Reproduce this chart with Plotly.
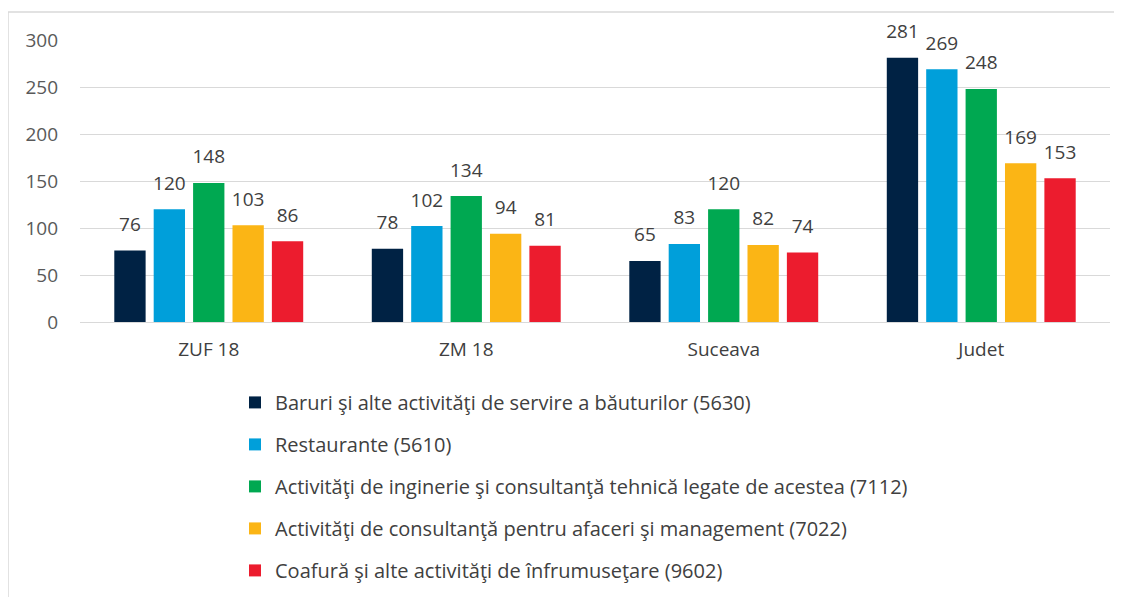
import plotly.graph_objects as go

categories = ["ZUF 18", "ZM 18", "Suceava", "Judet"]
series_names = [
    "Baruri şi alte activităţi de servire a băuturilor (5630)",
    "Restaurante (5610)",
    "Activităţi de inginerie şi consultanţă tehnică legate de acestea (7112)",
    "Activităţi de consultanţă pentru afaceri şi management (7022)",
    "Coafură şi alte activităţi de înfrumuseţare (9602)",
]
baruri = [76, 78, 65, 281]
restaurante = [120, 102, 83, 269]
inginerie = [148, 134, 120, 248]
consultanta = [103, 94, 82, 169]
coafura = [86, 81, 74, 153]
colors = ["#002244", "#009FDA", "#00A851", "#FBB515", "#EC1C2E"]

values = [baruri, restaurante, inginerie, consultanta, coafura]

fig = go.Figure()
for i, (name, vals, col) in enumerate(zip(series_names, values, colors)):
    fig.add_trace(go.Bar(
        x=categories, y=vals, name=name, marker_color=col,
        marker_line_width=0, legendgroup=f"g{i}",
    ))
for i, (name, vals, col) in enumerate(zip(series_names, values, colors)):
    fig.add_trace(go.Scatter(
        x=categories, y=vals, mode="markers+text", showlegend=False,
        marker=dict(size=22, opacity=0, color=col),
        text=[str(v) for v in vals], textposition="top center",
        textfont=dict(size=19, color="#404040", family="Open Sans"),
        cliponaxis=False, hoverinfo="skip",
    ))

fig.update_layout(
    width=1122, height=597,
    margin=dict(l=72, r=20, t=32, b=283, autoexpand=False),
    paper_bgcolor="white", plot_bgcolor="white",
    barmode="group", bargap=0.235, bargroupgap=0.205,
    scattermode="group", scattergap=0.235,
    font=dict(family="Open Sans", color="#595959", size=19),
    showlegend=True,
    legend=dict(
        x=0.1505, xanchor="left", y=-0.216, yanchor="top",
        orientation="v", tracegroupgap=13,
        font=dict(size=20, color="#404040"),
        itemwidth=30,
    ),
    shapes=[dict(
        type="rect", xref="paper", yref="paper",
        x0=-0.0699, x1=1.05, y0=-1.2, y1=1.099,
        line=dict(color="#D9D9D9", width=1.5), layer="below",
    )],
)
fig.update_yaxes(
    range=[0, 300], dtick=50, showgrid=True, gridcolor="#D9D9D9", gridwidth=1,
    zeroline=True, zerolinecolor="#D9D9D9", zerolinewidth=1,
    showline=False, ticks="", tickfont=dict(size=19, color="#595959"),
    ticklabelstandoff=21,
)
fig.update_xaxes(
    showline=False, ticks="", tickfont=dict(size=19, color="#404040"),
    ticklabelstandoff=14,
)

fig.write_html("out.html")
